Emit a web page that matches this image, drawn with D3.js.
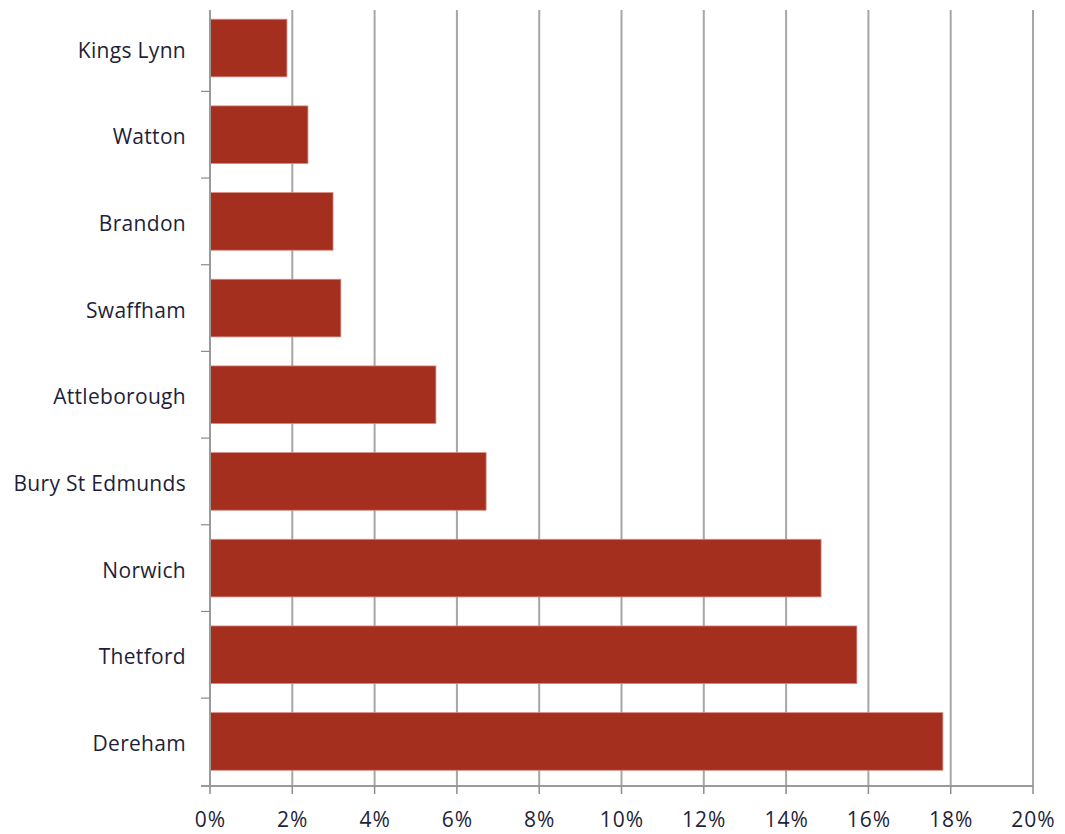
<!DOCTYPE html>
<html>
<head>
<meta charset="utf-8">
<script src="https://cdn.jsdelivr.net/npm/d3@7"></script>
<style>
  html, body { margin: 0; padding: 0; background: #fff; }
  svg { display: block; }
  text { font-family: "Open Sans", "Liberation Sans", sans-serif; fill: #1f1f3a; }
</style>
</head>
<body>
<svg id="chart" width="1065" height="834"></svg>
<script>
// Share of respondents by town
const towns = ["Kings Lynn", "Watton", "Brandon", "Swaffham", "Attleborough",
               "Bury St Edmunds", "Norwich", "Thetford", "Dereham"];
const shares = [1.87, 2.38, 2.99, 3.18, 5.49, 6.71, 14.85, 15.72, 17.81];
const xTicks = [0, 2, 4, 6, 8, 10, 12, 14, 16, 18, 20];

const svg = d3.select("#chart");
const left = 210, right = 1033, gridTop = 10, axisY = 786;

const x = d3.scaleLinear().domain([0, 20]).range([left, right]);
const y = d3.scaleBand().domain(towns).range([4.7, 784.8]).paddingInner(0.335).paddingOuter(0.1675);

// vertical gridlines
svg.append("g").selectAll("line")
  .data(xTicks.slice(1))
  .join("line")
  .attr("x1", d => x(d)).attr("x2", d => x(d))
  .attr("y1", gridTop).attr("y2", axisY)
  .attr("stroke", "#a6a6a6").attr("stroke-width", 2);

// bars
svg.append("g").selectAll("rect")
  .data(towns.map((t, i) => ({ town: t, value: shares[i] })))
  .join("rect")
  .attr("x", x(0))
  .attr("y", d => y(d.town))
  .attr("width", d => x(d.value) - x(0))
  .attr("height", y.bandwidth())
  .attr("fill", "#a52f1f")
  .attr("stroke", "#d98a80")
  .attr("stroke-width", 0.8);

// category axis
const yAxisG = svg.append("g");
yAxisG.append("line")
  .attr("x1", left).attr("x2", left)
  .attr("y1", gridTop).attr("y2", axisY)
  .attr("stroke", "#9a9a9a").attr("stroke-width", 2);
const step = y.step();
const boundaries = d3.range(towns.length + 1).map(i => 4.7 + i * step);
yAxisG.selectAll("line.tick")
  .data(boundaries.slice(1, -1))
  .join("line")
  .attr("class", "tick")
  .attr("x1", left - 9).attr("x2", left)
  .attr("y1", d => d).attr("y2", d => d)
  .attr("stroke", "#8c8c8c").attr("stroke-width", 1.2);
yAxisG.selectAll("text")
  .data(towns)
  .join("text")
  .attr("x", 186)
  .attr("y", d => y(d) + y.bandwidth() / 2)
  .attr("dy", "0.46em")
  .attr("text-anchor", "end")
  .attr("font-size", 21)
  .attr("letter-spacing", 0.3)
  .text(d => d);

// value axis
const xAxisG = svg.append("g");
xAxisG.append("line")
  .attr("x1", left - 9).attr("x2", right)
  .attr("y1", axisY).attr("y2", axisY)
  .attr("stroke", "#9a9a9a").attr("stroke-width", 2);
xAxisG.selectAll("line.tick")
  .data(xTicks)
  .join("line")
  .attr("class", "tick")
  .attr("x1", d => x(d)).attr("x2", d => x(d))
  .attr("y1", axisY).attr("y2", axisY + 8)
  .attr("stroke", "#8c8c8c").attr("stroke-width", 1.5);
xAxisG.selectAll("text")
  .data(xTicks)
  .join("text")
  .attr("x", d => x(d) + 0.5)
  .attr("y", 827)
  .attr("text-anchor", "middle")
  .attr("font-size", 21)
  .attr("letter-spacing", 1)
  .text(d => d + "%");
</script>
</body>
</html>
